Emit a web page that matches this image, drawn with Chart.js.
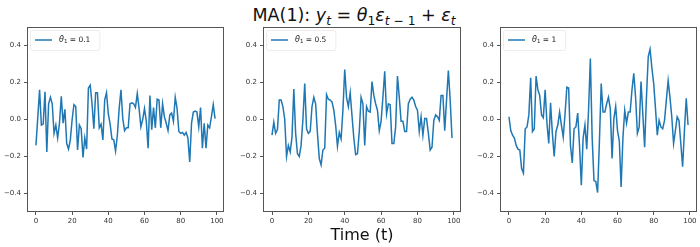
<!DOCTYPE html>
<html lang="en">
<head>
    <meta charset="UTF-8">
    <title>MA(1) processes</title>
    <style>
        body {
            margin: 0;
            width: 700px;
            height: 247px;
            position: relative;
            overflow: hidden;
            background: #fff;
            font-family: "DejaVu Sans", sans-serif;
        }
        .panel {
            position: absolute;
            top: 0;
        }
        .title {
            position: absolute;
            left: 0;
            width: 708px;
            top: 5px;
            text-align: center;
            font-size: 17.5px;
            line-height: 20px;
            color: #111;
        }
        .title sub {
            font-size: 70%;
            vertical-align: -0.3em;
            line-height: 0;
        }
        .xlabel {
            position: absolute;
            left: 262px;
            width: 200px;
            top: 227px;
            text-align: center;
            font-size: 16px;
            line-height: 16px;
            color: #111;
        }
    </style>
</head>
<body>

<div class="title">MA(1): <i>y</i><sub><i>t</i></sub> = <i>θ</i><sub>1</sub><i>ε</i><sub><i>t</i> − 1</sub> + <i>ε</i><sub><i>t</i></sub></div>

<div class="panel" style="left:0px"><canvas id="c1" width="236" height="247"></canvas></div>
<div class="panel" style="left:236px"><canvas id="c2" width="238" height="247"></canvas></div>
<div class="panel" style="left:473px"><canvas id="c3" width="227" height="247"></canvas></div>

<div class="xlabel">Time (t)</div>

<script src="https://cdn.jsdelivr.net/npm/chart.js"></script>

<script>
    // time index and tick labels
    const t = Array.from({length: 100}, (_, i) => i);
    const xTicks = [0, 20, 40, 60, 80, 100];
    const yTicks = [-0.4, -0.2, 0, 0.2, 0.4];
    const thetas = ['0.1', '0.5', '1'];

    // values
    const ma01 = [
        -0.14, 0.01, 0.16, -0.03, -0.025, 0.15, -0.175, 0.085, 0.12, 0.085,
        -0.075, -0.03, -0.1, -0.02, 0.125, -0.02, 0.055, -0.13, -0.16, -0.11,
        0.0, 0.08, 0.07, -0.165, -0.03, -0.05, -0.205, -0.1, -0.16, 0.17,
        0.185, 0.085, -0.05, 0.145, 0.145, -0.045, -0.025, -0.11, 0.105, 0.145,
        0.03, -0.025, -0.105, -0.11, -0.17, -0.085, 0.06, 0.16, 0.005, -0.06,
        -0.045, -0.045, 0.085, 0.09, 0.085, 0.065, 0.14, 0.06, -0.04, 0.0,
        0.06, -0.01, -0.155, 0.13, -0.055, 0.065, -0.045, 0.11, 0.105, -0.045,
        0.085, 0.015, -0.02, -0.06, 0.025, 0.035, -0.01, 0.12, 0.06, -0.065,
        -0.075, -0.07, -0.085, -0.07, -0.1, -0.23, -0.02, 0.04, 0.045, 0.04,
        -0.04, 0.065, -0.155, -0.02, -0.155, -0.03, -0.045, 0.015, 0.08, 0.005
    ];
    const ma05 = [
        -0.085, -0.015, -0.075, -0.055, 0.105, 0.105, 0.07, 0.0, -0.2, -0.14,
        -0.175, -0.095, 0.165, -0.075, -0.185, -0.2, -0.14, 0.0, 0.195, -0.05,
        -0.075, -0.065, 0.07, 0.12, 0.085, -0.075, -0.21, -0.245, -0.165, -0.155,
        0.135, 0.11, 0.105, 0.095, 0.05, -0.03, -0.145, -0.07, -0.105, 0.05,
        0.27, 0.12, 0.07, 0.145, 0.02, -0.1, -0.19, -0.185, -0.065, 0.12,
        0.085, -0.14, 0.07, 0.045, 0.04, 0.205, 0.13, 0.085, 0.05, -0.06,
        -0.01, 0.12, 0.26, 0.03, 0.085, 0.08, -0.13, -0.13, -0.04, 0.235,
        0.12, -0.01, -0.01, -0.065, -0.065, 0.085, 0.11, 0.12, 0.105, 0.07,
        0.05, -0.065, 0.015, -0.085, 0.005, 0.005, -0.075, -0.165, -0.15, -0.005,
        0.025, 0.015, -0.005, 0.13, 0.13, -0.06, 0.105, 0.265, 0.105, -0.1
    ];
    const ma1 = [
        0.015, -0.06, -0.085, -0.1, -0.14, -0.16, -0.165, -0.265, -0.29, -0.05,
        -0.04, 0.025, 0.225, -0.065, -0.05, 0.235, 0.16, 0.13, 0.025, 0.01,
        0.16, -0.02, -0.13, 0.09, -0.075, -0.2, -0.065, -0.03, 0.04, -0.03,
        -0.095, 0.03, 0.175, 0.17, -0.14, -0.235, -0.05, -0.04, 0.035, -0.14,
        -0.355, -0.1, -0.03, -0.16, 0.05, 0.33, -0.1, -0.33, -0.335, -0.395,
        -0.12, 0.195, 0.04, 0.04, 0.085, 0.12, 0.06, -0.21, 0.005, 0.07,
        -0.06, -0.115, -0.365, -0.1, 0.05, -0.02, 0.04, 0.04, 0.16, 0.25,
        0.12, -0.075, -0.04, 0.205, 0.03, -0.15, 0.12, 0.34, 0.38, 0.28,
        0.195, 0.06, -0.085, -0.005, -0.04, -0.05, -0.005, 0.105, 0.21, 0.12,
        0.015, -0.13, -0.06, 0.015, -0.005, -0.13, -0.255, -0.06, 0.115, -0.03
    ];

    const series = [ma01, ma05, ma1];

    // axes box (all four spines) like matplotlib
    const framePlugin = {
        id: 'frame',
        afterDraw(chart) {
            const a = chart.chartArea;
            const c = chart.ctx;
            c.save();
            c.strokeStyle = '#555';
            c.lineWidth = 1;
            c.strokeRect(Math.round(a.left) + 0.5, Math.round(a.top) + 0.5,
                Math.round(a.right - a.left) - 1, Math.round(a.bottom - a.top) - 1);
            c.restore();
        }
    };

    // small legend in the top-left corner of the axes
    const thetaLegend = {
        id: 'thetaLegend',
        afterDraw(chart, args, opts) {
            const a = chart.chartArea;
            const c = chart.ctx;
            const y = a.top + 13;
            c.save();
            c.font = 'italic 8px "DejaVu Sans"';
            const wTheta = c.measureText('θ').width;
            c.font = '5.5px "DejaVu Sans"';
            const wSub = c.measureText('1').width;
            c.font = '7.5px "DejaVu Sans"';
            const rest = ' = ' + opts.text;
            const wRest = c.measureText(rest).width;
            const boxW = 32 + wTheta + wSub + wRest + 6;

            c.strokeStyle = '#ececec';
            c.lineWidth = 1;
            c.beginPath();
            c.roundRect(a.left + 3.5, a.top + 3.5, boxW, 20, 2);
            c.stroke();

            c.strokeStyle = '#1f77b4';
            c.lineWidth = 1.5;
            c.beginPath();
            c.moveTo(a.left + 8, y);
            c.lineTo(a.left + 25, y);
            c.stroke();

            c.fillStyle = '#222';
            c.textBaseline = 'middle';
            let x = a.left + 32;
            c.font = 'italic 8px "DejaVu Sans"';
            c.fillText('θ', x, y);
            x += wTheta;
            c.font = '5.5px "DejaVu Sans"';
            c.fillText('1', x, y + 2);
            x += wSub;
            c.font = '7.5px "DejaVu Sans"';
            c.fillText(rest, x, y);
            c.restore();
        }
    };

    const tickFont = {family: '"DejaVu Sans"', size: 7};

    function makeChart(id, values, theta, padRight) {
        return new Chart(document.getElementById(id), {
            type: 'line',
            data: {
                datasets: [{
                    data: values.map((v, i) => ({x: t[i], y: v})),
                    borderColor: '#1f77b4',
                    borderWidth: 1.5,
                    pointRadius: 0,
                    tension: 0,
                    fill: false
                }]
            },
            options: {
                responsive: false,
                animation: false,
                devicePixelRatio: 1,
                layout: {padding: {top: 27, right: padRight, left: 0, bottom: 0}},
                plugins: {
                    legend: {display: false},
                    tooltip: {enabled: false},
                    thetaLegend: {text: theta}
                },
                scales: {
                    x: {
                        type: 'linear',
                        min: -4.95,
                        max: 103.95,
                        afterBuildTicks: s => { s.ticks = xTicks.map(v => ({value: v})); },
                        afterFit: s => { s.height = 35; },
                        grid: {drawOnChartArea: false, drawTicks: true, tickLength: 3, tickColor: '#555'},
                        border: {display: false},
                        ticks: {font: tickFont, color: '#333', padding: 2, maxRotation: 0,
                            callback: v => String(v)}
                    },
                    y: {
                        min: -0.5,
                        max: 0.5,
                        afterBuildTicks: s => { s.ticks = yTicks.map(v => ({value: v})); },
                        afterFit: s => { s.width = 27; },
                        grid: {drawOnChartArea: false, drawTicks: true, tickLength: 3, tickColor: '#555'},
                        border: {display: false},
                        ticks: {font: tickFont, color: '#333', padding: 3,
                            callback: v => (v < 0 ? '\u2212' : '') + Math.abs(v).toFixed(1)}
                    }
                }
            },
            plugins: [framePlugin, thetaLegend]
        });
    }

    makeChart('c1', series[0], thetas[0], 12);
    makeChart('c2', series[1], thetas[1], 13);
    makeChart('c3', series[2], thetas[2], 3);
</script>

</body>
</html>
